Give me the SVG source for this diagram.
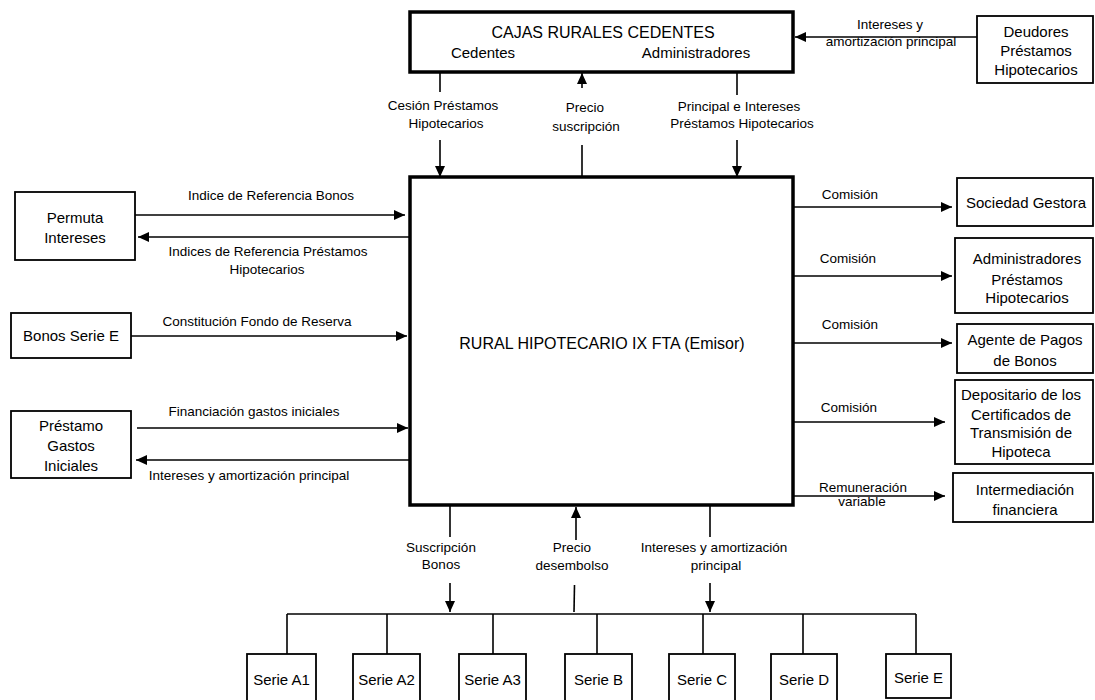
<svg xmlns="http://www.w3.org/2000/svg" width="1095" height="700" viewBox="0 0 1095 700">
<style>
text{font-family:"Liberation Sans",Arial,sans-serif;fill:#000;text-anchor:middle}
.t{font-size:15px}
.h{font-size:16px}
.l{font-size:13.5px}
.box{fill:#fff;stroke:#000;stroke-width:1.8}
.big{fill:#fff;stroke:#000;stroke-width:3.5}
.c line,.c polyline{stroke:#000;stroke-width:1.6;fill:none}
</style>
<defs>
<marker id="ah" markerUnits="userSpaceOnUse" markerWidth="11" markerHeight="10" refX="11" refY="5" orient="auto">
<path d="M0,0 L11,5 L0,10 z" fill="#000"/>
</marker>
</defs>
<rect width="1095" height="700" fill="#fff"/>
<g id="connectors" class="c">
<line x1="440" y1="72" x2="440" y2="92"/>
<line x1="440" y1="140" x2="440" y2="177" marker-end="url(#ah)"/>
<line x1="582" y1="88" x2="582" y2="73" marker-end="url(#ah)"/>
<line x1="582" y1="145" x2="582" y2="177"/>
<line x1="737" y1="72" x2="737" y2="95"/>
<line x1="737" y1="140" x2="737" y2="177" marker-end="url(#ah)"/>
<line x1="977" y1="37" x2="795" y2="37" marker-end="url(#ah)"/>
<line x1="135" y1="215" x2="405" y2="215" marker-end="url(#ah)"/>
<line x1="410" y1="237" x2="138" y2="237" marker-end="url(#ah)"/>
<line x1="131" y1="336" x2="407" y2="336" marker-end="url(#ah)"/>
<line x1="137" y1="428" x2="408" y2="428" marker-end="url(#ah)"/>
<line x1="410" y1="460" x2="136" y2="460" marker-end="url(#ah)"/>
<line x1="793" y1="207" x2="952" y2="207" marker-end="url(#ah)"/>
<line x1="793" y1="276" x2="952" y2="276" marker-end="url(#ah)"/>
<line x1="793" y1="343" x2="952" y2="343" marker-end="url(#ah)"/>
<line x1="793" y1="422" x2="945" y2="422" marker-end="url(#ah)"/>
<line x1="793" y1="496" x2="945" y2="496" marker-end="url(#ah)"/>
<line x1="450" y1="505" x2="450" y2="537"/>
<line x1="450" y1="583" x2="450" y2="612" marker-end="url(#ah)"/>
<line x1="576" y1="540" x2="576" y2="507" marker-end="url(#ah)"/>
<line x1="574.5" y1="585" x2="574" y2="612"/>
<line x1="710" y1="505" x2="710" y2="537"/>
<line x1="710" y1="583" x2="710" y2="612" marker-end="url(#ah)"/>
<line x1="287" y1="614" x2="916" y2="614"/>
<line x1="287" y1="614" x2="287" y2="654"/>
<line x1="387" y1="614" x2="387" y2="654"/>
<line x1="493" y1="614" x2="493" y2="654"/>
<line x1="597" y1="614" x2="597" y2="654"/>
<line x1="703" y1="614" x2="703" y2="654"/>
<line x1="803" y1="614" x2="803" y2="654"/>
<line x1="916" y1="614" x2="916" y2="654"/>
</g>
<g id="labels">
<text class="l" x="443" y="110">Cesión Préstamos</text>
<text class="l" x="446" y="128">Hipotecarios</text>
<text class="l" x="585" y="112">Precio</text>
<text class="l" x="586" y="131">suscripción</text>
<text class="l" x="739" y="111">Principal e Intereses</text>
<text class="l" x="742" y="128">Préstamos Hipotecarios</text>
<text class="l" x="890" y="29">Intereses y</text>
<text class="l" x="891" y="46">amortización principal</text>
<text class="l" x="271" y="200">Indice de Referencia Bonos</text>
<text class="l" x="268" y="256">Indices de Referencia Préstamos</text>
<text class="l" x="267" y="274">Hipotecarios</text>
<text class="l" x="257" y="326">Constitución Fondo de Reserva</text>
<text class="l" x="254" y="416">Financiación gastos iniciales</text>
<text class="l" x="249" y="480">Intereses y amortización principal</text>
<text class="l" x="850" y="199">Comisión</text>
<text class="l" x="848" y="263">Comisión</text>
<text class="l" x="850" y="329">Comisión</text>
<text class="l" x="849" y="412">Comisión</text>
<text class="l" x="863" y="492">Remuneración</text>
<text class="l" x="862" y="506">variable</text>
<text class="l" x="441" y="552">Suscripción</text>
<text class="l" x="441" y="569">Bonos</text>
<text class="l" x="572" y="552">Precio</text>
<text class="l" x="572" y="570">desembolso</text>
<text class="l" x="714" y="552">Intereses y amortización</text>
<text class="l" x="716" y="570">principal</text>
</g>
<g id="cajas">
<rect class="big" x="410" y="12" width="383" height="60"/>
<text class="h" x="603" y="38">CAJAS RURALES CEDENTES</text>
<text class="t" x="483" y="58">Cedentes</text>
<text class="t" x="696" y="58">Administradores</text>
</g>
<g id="emisor">
<rect class="big" x="410" y="177" width="383" height="328"/>
<text class="h" x="602" y="349">RURAL HIPOTECARIO IX FTA (Emisor)</text>
</g>
<g id="deudores">
<rect class="box" x="977" y="16" width="116" height="67"/>
<text class="t" x="1036" y="37">Deudores</text>
<text class="t" x="1036" y="56">Préstamos</text>
<text class="t" x="1036" y="75">Hipotecarios</text>
</g>
<g id="permuta">
<rect class="box" x="15" y="192" width="120" height="68"/>
<text class="t" x="75" y="223">Permuta</text>
<text class="t" x="75" y="243">Intereses</text>
</g>
<g id="bonosE">
<rect class="box" x="11" y="313" width="120" height="45"/>
<text class="t" x="71" y="341">Bonos Serie E</text>
</g>
<g id="prestamo">
<rect class="box" x="11" y="411" width="120" height="67"/>
<text class="t" x="71" y="431">Préstamo</text>
<text class="t" x="71" y="451">Gastos</text>
<text class="t" x="71" y="471">Iniciales</text>
</g>
<g id="sociedad">
<rect class="box" x="957" y="178" width="136" height="48"/>
<text class="t" x="1026" y="208">Sociedad Gestora</text>
</g>
<g id="administradores">
<rect class="box" x="955" y="238" width="138" height="75"/>
<text class="t" x="1027" y="264">Administradores</text>
<text class="t" x="1027" y="285">Préstamos</text>
<text class="t" x="1027" y="303">Hipotecarios</text>
</g>
<g id="agente">
<rect class="box" x="957" y="324" width="136" height="49"/>
<text class="t" x="1025" y="345">Agente de Pagos</text>
<text class="t" x="1025" y="366">de Bonos</text>
</g>
<g id="depositario">
<rect class="box" x="955" y="380" width="138" height="84"/>
<text class="t" x="1021" y="400">Depositario de los</text>
<text class="t" x="1021" y="420">Certificados de</text>
<text class="t" x="1021" y="438">Transmisión de</text>
<text class="t" x="1021" y="457">Hipoteca</text>
</g>
<g id="intermediacion">
<rect class="box" x="953" y="473" width="140" height="49"/>
<text class="t" x="1025" y="495">Intermediación</text>
<text class="t" x="1025" y="515">financiera</text>
</g>
<g id="serieA1"><rect class="box" x="247" y="654" width="69" height="52"/><text class="t" x="281.5" y="685">Serie A1</text></g>
<g id="serieA2"><rect class="box" x="353" y="654" width="67" height="52"/><text class="t" x="386.5" y="685">Serie A2</text></g>
<g id="serieA3"><rect class="box" x="459" y="654" width="67" height="52"/><text class="t" x="492.5" y="685">Serie A3</text></g>
<g id="serieB"><rect class="box" x="565" y="654" width="67" height="52"/><text class="t" x="598.5" y="685">Serie B</text></g>
<g id="serieC"><rect class="box" x="669" y="654" width="66" height="52"/><text class="t" x="702" y="685">Serie C</text></g>
<g id="serieD"><rect class="box" x="771" y="654" width="66" height="52"/><text class="t" x="804" y="685">Serie D</text></g>
<g id="serieE"><rect class="box" x="886" y="654" width="65" height="44"/><text class="t" x="918.5" y="683">Serie E</text></g>
</svg>
